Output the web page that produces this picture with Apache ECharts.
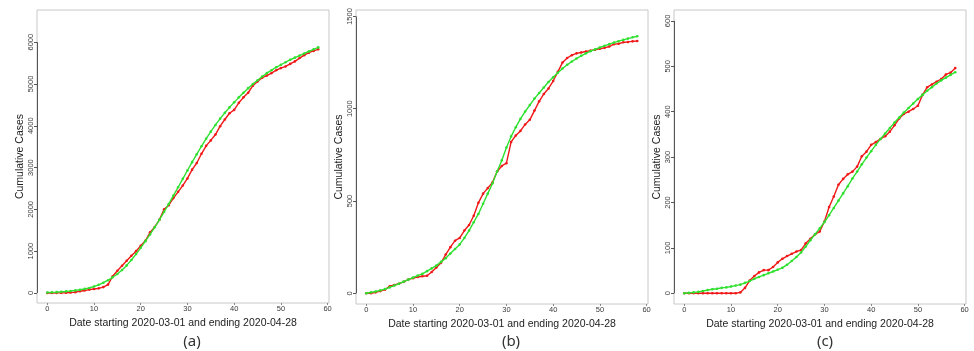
<!DOCTYPE html>
<html>
<head>
<meta charset="utf-8">
<script src="https://cdn.jsdelivr.net/npm/echarts@6/dist/echarts.min.js"></script>
<style>
  html, body { margin: 0; padding: 0; background: #fff; }
  #chart { width: 974px; height: 351px; }
</style>
</head>
<body>
<div id="chart"></div>
<script>
// Day index since 2020-03-01
const days = Array.from({ length: 59 }, (_, i) => i);

// Panel (a): observed cumulative cases and fitted curve
const casesA = [0, 1, 2, 3, 5, 10, 20, 40, 60, 80, 95, 110, 140, 200, 400, 530, 650, 770, 890, 1000,
  1130, 1250, 1450, 1580, 1750, 2000, 2100, 2270, 2420, 2570, 2740, 2950, 3110, 3330, 3520, 3650, 3790, 3990, 4150, 4300,
  4380, 4550, 4680, 4790, 4960, 5060, 5150, 5200, 5260, 5330, 5380, 5420, 5480, 5540, 5620, 5690, 5750, 5790, 5830];
const fitA = [10, 15, 20, 28, 37, 48, 62, 78, 97, 120, 155, 195, 245, 305, 375, 455, 550, 660, 790, 930,
  1080, 1240, 1400, 1570, 1750, 1940, 2130, 2330, 2530, 2730, 2930, 3130, 3320, 3510, 3690, 3860, 4020, 4170, 4310, 4440,
  4560, 4680, 4790, 4900, 5000, 5090, 5180, 5260, 5330, 5400, 5460, 5520, 5580, 5630, 5680, 5730, 5780, 5830, 5875];

// Panel (b)
const casesB = [0, 0, 5, 12, 20, 38, 45, 52, 62, 75, 82, 88, 92, 95, 115, 140, 165, 210, 250, 285,
  300, 340, 370, 420, 490, 540, 570, 600, 660, 690, 705, 820, 855, 880, 915, 940, 990, 1040, 1080, 1110,
  1150, 1200, 1250, 1275, 1290, 1300, 1305, 1310, 1315, 1320, 1325, 1330, 1337, 1350, 1352, 1360, 1362, 1365, 1367];
const fitB = [0, 5, 10, 16, 23, 32, 42, 52, 63, 74, 85, 96, 105, 120, 135, 150, 170, 190, 215, 240,
  265, 300, 340, 385, 430, 485, 540, 595, 660, 720, 790, 850, 900, 945, 985, 1020, 1055, 1085, 1115, 1145,
  1170, 1195, 1218, 1238, 1256, 1272, 1287, 1300, 1312, 1322, 1332, 1341, 1350, 1358, 1366, 1373, 1380, 1387, 1393];

// Panel (c)
const casesC = [0, 0, 0, 0, 0, 0, 0, 0, 0, 0, 0, 0, 2, 12, 28, 38, 46, 51, 51, 58,
  68, 76, 82, 87, 92, 95, 110, 120, 130, 136, 158, 190, 213, 239, 252, 262, 268, 279, 302, 312,
  327, 333, 340, 346, 356, 370, 385, 395, 400, 406, 413, 437, 454, 460, 466, 472, 482, 486, 496];
const fitC = [0, 1, 2, 3, 5, 7, 9, 10, 12, 13, 15, 17, 19, 23, 27, 32, 36, 40, 44, 48,
  52, 56, 63, 71, 80, 90, 103, 117, 130, 143, 157, 172, 188, 204, 220, 236, 253, 268, 284, 299,
  313, 327, 340, 352, 364, 376, 387, 398, 408, 418, 428, 437, 446, 454, 462, 469, 475, 481, 487];

// Tick labels
const xTicks = [0, 10, 20, 30, 40, 50, 60];
const yTicksA = [0, 1000, 2000, 3000, 4000, 5000, 6000];
const yTicksB = [0, 500, 1000, 1500];
const yTicksC = [0, 100, 200, 300, 400, 500, 600];

const xTitle = 'Date starting 2020-03-01 and ending 2020-04-28';
const yTitle = 'Cumulative Cases';
const panelTags = ['(a)', '(b)', '(c)'];

const FONT = 'Liberation Sans, Arial, sans-serif';
const X_MIN = -2.2, X_MAX = 60.3;

const panels = [
  { left: 37, width: 292, top: 10, height: 293, yMin: -240, yMax: 6770, ticks: yTicksA, obs: casesA, fit: fitA, tagX: 192 },
  { left: 356, width: 292, top: 10, height: 294, yMin: -58, yMax: 1535, ticks: yTicksB, obs: casesB, fit: fitB, tagX: 511 },
  { left: 674, width: 292, top: 10, height: 294, yMin: -23.6, yMax: 624, ticks: yTicksC, obs: casesC, fit: fitC, tagX: 825 }
];

const pair = (arr) => days.map((d, i) => [d, arr[i]]);
const plain = (v) => String(v);

const grid = [], xAxis = [], yAxis = [], series = [];
panels.forEach((p, k) => {
  grid.push({
    left: p.left, top: p.top, width: p.width, height: p.height,
    show: true, borderColor: '#c8c8c8', borderWidth: 1, backgroundColor: '#fff'
  });
  xAxis.push({
    type: 'value', gridIndex: k, min: X_MIN, max: X_MAX,
    name: xTitle, nameLocation: 'middle', nameGap: 13,
    nameTextStyle: { fontFamily: FONT, fontSize: 10.5, color: '#222' },
    axisLine: { show: false, onZero: false },
    axisTick: { show: true, customValues: xTicks, length: 2, lineStyle: { color: '#888' } },
    axisLabel: { customValues: xTicks, margin: 2, fontFamily: FONT, fontSize: 7.5, color: '#3a3a3a', formatter: plain },
    splitLine: { show: false }
  });
  yAxis.push({
    type: 'value', gridIndex: k, min: p.yMin, max: p.yMax,
    name: yTitle, nameLocation: 'middle', nameGap: 10,
    nameTextStyle: { fontFamily: FONT, fontSize: 10.5, color: '#222' },
    axisLine: { show: false, onZero: false },
    axisTick: { show: true, customValues: p.ticks, length: 3, lineStyle: { color: '#555' } },
    axisLabel: { customValues: p.ticks, rotate: 90, margin: 2, fontFamily: FONT, fontSize: 7.5, color: '#3a3a3a', formatter: plain },
    splitLine: { show: false }
  });
  series.push({
    type: 'line', xAxisIndex: k, yAxisIndex: k, data: pair(p.obs),
    symbol: 'circle', symbolSize: 2.6, showSymbol: true,
    lineStyle: { color: '#f01818', width: 1.4 }, itemStyle: { color: '#f01818' },
    animation: false, z: 2,
    markLine: {
      silent: true, symbol: 'none', animation: false,
      lineStyle: { color: '#555', width: 1, type: 'solid' }, label: { show: false },
      data: [[{ coord: [X_MIN, p.ticks[0]] }, { coord: [X_MIN, p.ticks[p.ticks.length - 1]] }]]
    }
  });
  series.push({
    type: 'line', xAxisIndex: k, yAxisIndex: k, data: pair(p.fit),
    symbol: 'circle', symbolSize: 2.6, showSymbol: true,
    lineStyle: { color: '#2ee02e', width: 1.4 }, itemStyle: { color: '#2ee02e' },
    animation: false, z: 3
  });
});

const graphic = panels.map((p, k) => ({
  type: 'text', x: p.tagX, y: 342,
  style: { text: panelTags[k], font: '15px "Noto Sans", sans-serif', fill: '#333', align: 'center', verticalAlign: 'middle' }
}));

const chart = echarts.init(document.getElementById('chart'), null, { renderer: 'canvas' });
chart.setOption({ animation: false, grid, xAxis, yAxis, series, graphic });
</script>
</body>
</html>
